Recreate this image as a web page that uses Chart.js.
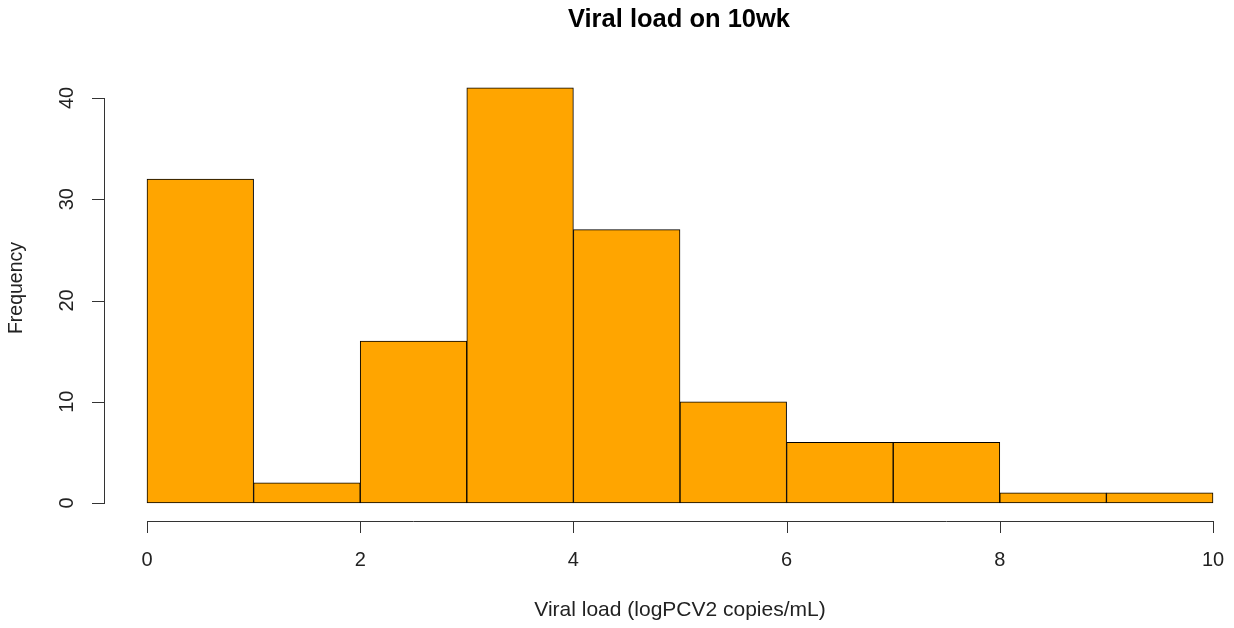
<!DOCTYPE html>
<html>
<head>
<meta charset="utf-8">
<script src="https://cdn.jsdelivr.net/npm/chart.js@4/dist/chart.umd.min.js"></script>
<style>
  html, body { margin: 0; padding: 0; background: #fff; }
  canvas { display: block; }
</style>
</head>
<body>
<canvas id="hist" width="1234" height="628"></canvas>
<script>
// histogram bins (logPCV2 copies/mL) and counts
const binStarts = [0, 1, 2, 3, 4, 5, 6, 7, 8, 9];
const counts = [32, 2, 16, 41, 27, 10, 6, 6, 1, 1];
const xTicks = [0, 2, 4, 6, 8, 10];
const yTicks = [0, 10, 20, 30, 40];

const title = "Viral load on 10wk";
const xLabel = "Viral load (logPCV2 copies/mL)";
const yLabel = "Frequency";

const FONT = "Liberation Sans, Arial, sans-serif";
const AXIS = "#333333";

// R style detached axes, drawn from the chart's own scales
const rAxes = {
  id: "rAxes",
  afterDraw(chart) {
    const { ctx, scales: { x, y } } = chart;
    const axisY = 521;
    const axisX = 104;
    ctx.save();
    ctx.strokeStyle = AXIS;
    ctx.lineWidth = 1;
    ctx.fillStyle = "#222";

    // x axis
    ctx.beginPath();
    ctx.moveTo(x.getPixelForValue(xTicks[0]), axisY + 0.5);
    ctx.lineTo(x.getPixelForValue(xTicks[xTicks.length - 1]), axisY + 0.5);
    xTicks.forEach(t => {
      const px = Math.round(x.getPixelForValue(t)) + 0.5;
      ctx.moveTo(px, axisY);
      ctx.lineTo(px, axisY + 12);
    });
    ctx.stroke();
    ctx.font = "20px " + FONT;
    ctx.textAlign = "center";
    ctx.textBaseline = "middle";
    xTicks.forEach(t => {
      ctx.fillText(String(t), x.getPixelForValue(t), 560);
    });

    // y axis
    ctx.beginPath();
    ctx.moveTo(axisX + 0.5, y.getPixelForValue(yTicks[0]));
    ctx.lineTo(axisX + 0.5, y.getPixelForValue(yTicks[yTicks.length - 1]));
    yTicks.forEach(t => {
      const py = Math.round(y.getPixelForValue(t)) + 0.5;
      ctx.moveTo(axisX + 1, py);
      ctx.lineTo(axisX - 12, py);
    });
    ctx.stroke();
    yTicks.forEach(t => {
      ctx.save();
      ctx.translate(67, y.getPixelForValue(t));
      ctx.rotate(-Math.PI / 2);
      ctx.fillText(String(t), 0, 0);
      ctx.restore();
    });

    // titles
    ctx.fillStyle = "#000";
    ctx.font = "bold 25.5px " + FONT;
    ctx.fillText(title, 679, 20);
    ctx.fillStyle = "#222";
    ctx.font = "21px " + FONT;
    ctx.fillText(xLabel, 680, 610);
    ctx.save();
    ctx.translate(17, 288);
    ctx.rotate(-Math.PI / 2);
    ctx.font = "19.5px " + FONT;
    ctx.fillText(yLabel, 0, 0);
    ctx.restore();
    ctx.restore();
  }
};

new Chart(document.getElementById("hist"), {
  type: "bar",
  data: {
    datasets: [{
      data: binStarts.map((b, i) => ({ x: b + 0.5, y: counts[i] })),
      backgroundColor: "#FFA500",
      borderColor: "#000000",
      borderWidth: 1,
      borderSkipped: false,
      barPercentage: 1,
      categoryPercentage: 1,
      clip: false
    }]
  },
  options: {
    responsive: false,
    animation: false,
    layout: { padding: { left: 147, right: 21, top: 98, bottom: 125 } },
    plugins: {
      legend: { display: false },
      tooltip: { enabled: false }
    },
    scales: {
      x: { type: "linear", min: 0, max: 10, display: false, offset: false },
      y: { min: 0, max: 40, display: false }
    }
  },
  plugins: [rAxes]
});
</script>
</body>
</html>
